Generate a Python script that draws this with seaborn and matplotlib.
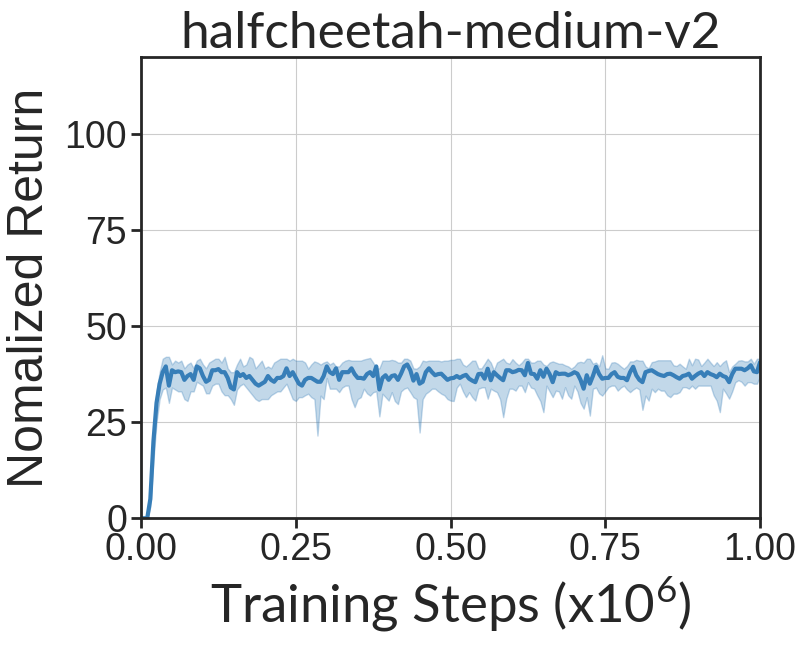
import numpy as np
import pandas as pd
import matplotlib
matplotlib.use("Agg")
import matplotlib.pyplot as plt
import seaborn as sns

# evaluation every 5000 steps, 0 .. 1e6 (shown in units of 1e6)
step_size = 0.005

mean_return = [
    0, 0, 0, 5, 20, 30, 35, 38, 39.5, 34.5,
    38.5, 38, 38.2, 38, 36, 37, 37.5, 36, 39.5, 39,
    37, 35.5, 36, 38.5, 38.5, 38.8, 38, 38, 36.5, 34,
    33.5, 38, 37, 37.5, 36.5, 37, 36, 35, 34.5, 35,
    35.5, 37, 36, 35.5, 36.5, 36.5, 37, 39, 37, 38,
    36.5, 35, 34.5, 36, 36.5, 36.5, 36, 35.5, 35.5, 37,
    39.5, 38, 37.5, 39, 36, 38, 38, 38, 39, 37.5,
    36.5, 36.5, 36.3, 37.5, 38, 37, 39.5, 33.5, 36.5, 37.2,
    36, 37, 37.2, 36, 37.6, 39.5, 40, 38.5, 35.8, 37.5,
    35, 35.5, 38, 39, 38, 37.2, 37.5, 37.6, 36.8, 36,
    36.4, 36.5, 37, 36.5, 37, 37.3, 36.3, 35.8, 35.4, 37.5,
    37.6, 36.3, 38.9, 35.9, 38, 37.2, 36.5, 35.9, 38.5, 38.5,
    38, 38.2, 38.6, 38.5, 37.2, 40.4, 37.6, 37.5, 36.3, 38.5,
    36.8, 38.9, 37.5, 35.4, 38, 37.5, 37.6, 37.6, 37.2, 37.5,
    38, 37.6, 36, 33.7, 37.2, 35, 37, 39.4, 37.5, 36.3,
    36.5, 36.5, 37.5, 38, 36.8, 36.5, 36.5, 35.9, 38, 39.4,
    37.2, 36, 35.4, 38, 38.3, 38.5, 38, 37.5, 37.2, 37,
    37.5, 37.6, 37.2, 36.7, 36.3, 37, 37.2, 37.6, 36.3, 37,
    37.6, 38, 37, 38, 37.5, 37.2, 36.7, 37.6, 37, 36.7,
    35.4, 37.5, 38.9, 38.9, 38.9, 38.5, 39, 39.8, 38.2, 38,
    40.6,
]

lower_return = [
    0, 0, 0, 3, 15, 25, 31, 33.5, 34, 30,
    34, 33.5, 33, 33, 31, 30.5, 33, 33, 35.5, 35,
    34.5, 32.5, 32.5, 34.5, 35, 35, 33, 32, 32, 31,
    29.5, 33.5, 34.5, 35, 34, 33, 32, 31, 30.5, 31,
    31, 31, 32, 32.5, 33, 33, 34, 35, 33, 31,
    30.5, 31.5, 31.5, 32, 32.4, 31.5, 31, 21.5, 31.9, 31,
    36.5, 33.7, 33.7, 33.7, 32.8, 34, 34.5, 34.5, 31, 28.9,
    31, 31.5, 33.7, 32.5, 31.9, 32.8, 33, 26.5, 32.4, 31.5,
    30.6, 32.8, 30.5, 29.7, 33, 33.7, 34, 32.8, 31.5, 31,
    22.3, 31, 32.4, 33, 33.7, 33.7, 33, 32.4, 32, 31,
    30.6, 30.5, 34, 35, 33, 31.5, 32.8, 31.5, 30.6, 33.7,
    34, 34.1, 31.1, 33.7, 33.2, 32.8, 31, 26.3, 31.1, 33.7,
    33.7, 33.2, 34.5, 34.5, 32.8, 35.4, 34, 33.7, 32, 30.5,
    27.6, 34.5, 33, 31.5, 33.2, 33, 31.1, 34.1, 32, 31.1,
    34.5, 33, 30, 28.5, 31.5, 26.7, 33.7, 34, 32.5, 31.9,
    33, 34.1, 34.5, 34.5, 33.2, 34, 34.5, 33.5, 32.8, 33.5,
    34, 33.5, 28.2, 31.9, 30.6, 33.7, 32.8, 33.7, 33.2, 33.2,
    32, 31.5, 32.4, 32.4, 32.8, 34.1, 34.1, 33.7, 34.5, 33.7,
    34.5, 34.5, 34.5, 34.5, 34.5, 32, 30.6, 27.6, 33.7, 32.5,
    31.1, 33, 35.4, 35.9, 35.5, 34.5, 35.4, 35.4, 35, 35,
    37,
]

upper_return = [
    0, 0, 0, 6, 24, 33, 38, 41.5, 42, 42,
    40, 41, 40.5, 41, 39, 40, 40.5, 39, 41, 41.5,
    40, 39, 40.5, 41, 41.5, 41.5, 40.5, 42, 39, 38,
    38, 40, 41.5, 39.5, 40, 42, 41.5, 39, 40, 41,
    39, 39.5, 39, 40.5, 41, 41.5, 41.5, 41.5, 41, 41.5,
    41, 41, 41, 40.5, 38.9, 40, 40.8, 40.5, 40, 40.5,
    40.8, 40, 40.5, 39.5, 39.5, 40.5, 41, 41.2, 41, 41,
    41, 41, 41.3, 41.5, 41.7, 40.5, 39, 39, 41, 41,
    41, 41.2, 41, 40.5, 40.5, 41.5, 41.5, 41, 39, 38.9,
    39.5, 41, 40.8, 41, 41, 41, 41, 40.8, 41, 41,
    41.2, 41.2, 41.5, 41.5, 40, 39.5, 40.2, 41, 41, 39,
    39, 40.2, 41.5, 40.5, 38.5, 40.5, 41, 41.5, 40.5, 40.2,
    41.4, 40.5, 39.8, 40.5, 41.5, 41.5, 40.5, 40.5, 41, 41,
    40, 39.6, 40.5, 40.8, 40.5, 40.2, 40.2, 39.8, 39.5, 38.9,
    39.5, 40.5, 40.7, 40.5, 41.5, 41.5, 40.2, 40.5, 39.5, 42.4,
    39, 38.9, 40.5, 40.6, 40.2, 39.5, 38.9, 39.6, 40.8, 40.8,
    41.2, 41, 41, 39.5, 39, 40.6, 40.8, 41.1, 41.1, 41.1,
    41.1, 41.1, 39.8, 39.6, 40.2, 39.5, 38.9, 41.5, 39.8, 41.5,
    41.3, 39.6, 40.5, 41.5, 40.5, 39.6, 40.6, 39.6, 40.5, 41.1,
    38.05, 39.5, 40.2, 41, 41.1, 40.8, 40.8, 41.5, 40.2, 41.5,
    41.5,
]

x_ticks = [0.0, 0.25, 0.5, 0.75, 1.0]
y_ticks = [0, 25, 50, 75, 100]

line_color = "#377eb8"

df = pd.DataFrame({
    "step": np.arange(len(mean_return)) * step_size,
    "mean": mean_return,
    "lower": lower_return,
    "upper": upper_return,
})

sns.set_style("whitegrid", {
    "axes.edgecolor": ".15",
    "xtick.bottom": True,
    "ytick.left": True,
})
plt.rcParams["font.family"] = ["Liberation Sans", "DejaVu Sans"]
plt.rcParams["mathtext.fontset"] = "custom"
plt.rcParams["mathtext.rm"] = "Lato"

fig, ax = plt.subplots(figsize=(8.06, 6.47), dpi=100)
fig.subplots_adjust(left=0.175, right=0.943, top=0.912, bottom=0.199)

sns.lineplot(data=df, x="step", y="mean", color=line_color, linewidth=3, ax=ax)
ax.fill_between(df["step"], df["lower"], df["upper"], color=line_color, alpha=0.3, linewidth=1)

ax.set_xlim(0, 1.0)
ax.set_ylim(0, 120)
ax.set_xticks(x_ticks)
ax.set_yticks(y_ticks)
ax.set_xticklabels([f"{t:.2f}" for t in x_ticks])
ax.tick_params(labelsize=27, length=7, width=2, color=".15", pad=3)

for spine in ax.spines.values():
    spine.set_linewidth(2)

ax.set_title("halfcheetah-medium-v2", fontsize=37, family="Lato", pad=6)
ax.set_xlabel(r"Training Steps (x$10^6$)", fontsize=38, family="Lato", labelpad=4)
ax.set_ylabel("Nomalized Return", fontsize=36, labelpad=8)

fig.savefig("out.png", dpi=100)
